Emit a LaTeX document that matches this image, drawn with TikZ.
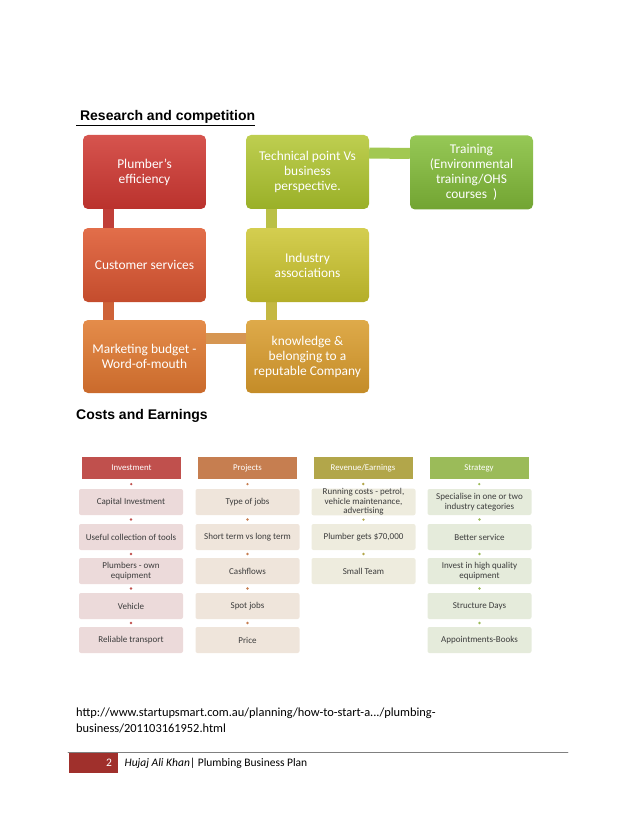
\documentclass[tikz,border=0pt]{standalone}
\usepackage{fontspec}
\setmainfont{Carlito}
\newfontfamily\headfont{Liberation Sans}
\usetikzlibrary{calc,backgrounds}

\definecolor{invred}{RGB}{192,80,77}
\definecolor{projbrown}{RGB}{198,126,80}
\definecolor{revolive}{RGB}{178,166,74}
\definecolor{stratgreen}{RGB}{155,187,89}
\definecolor{invitem}{RGB}{236,218,218}
\definecolor{projitem}{RGB}{239,229,219}
\definecolor{revitem}{RGB}{238,236,222}
\definecolor{stratitem}{RGB}{229,235,219}
\definecolor{itemtext}{RGB}{60,60,60}
\definecolor{footred}{RGB}{160,48,44}

\begin{document}
\begin{tikzpicture}[x=1pt, y=-1pt, line join=round, line cap=round,
    bigbox/.style={rounded corners=5pt, minimum width=123pt, minimum height=74pt, inner sep=0pt,
      align=center, text=white, font=\fontsize{13.4}{15}\selectfont},
    bar/.style={line width=11pt, line cap=butt},
    colhead/.style={minimum width=99pt, minimum height=22.6pt, inner sep=0pt, text=white,
      font=\fontsize{8.8}{10}\selectfont},
    item/.style={rounded corners=2pt, minimum width=104pt, minimum height=26pt, inner sep=0pt,
      align=center, text=itemtext, font=\fontsize{9}{9.4}\selectfont}]
  \useasboundingbox (0,0) rectangle (638,826);

  % research and competition
  \node[anchor=base west, inner sep=0pt, font=\headfont\bfseries\fontsize{14}{16}\selectfont] (rchead) at (76,121) {\underline{\ Research and competition}};

  \node[bigbox, top color={rgb,255:red,214;green,84;blue,78}, bottom color={rgb,255:red,186;green,50;blue,45}] (pe) at (144.5,172) {Plumber’s\\efficiency};
  \node[bigbox, top color={rgb,255:red,226;green,110;blue,74}, bottom color={rgb,255:red,196;green,76;blue,45}] (cs) at (144.5,265) {Customer services};
  \node[bigbox, minimum height=73pt, top color={rgb,255:red,228;green,140;blue,74}, bottom color={rgb,255:red,202;green,106;blue,44}] (mb) at (144.5,356.5) {Marketing budget -\\Word-of-mouth};
  \node[bigbox, top color={rgb,255:red,190;green,206;blue,80}, bottom color={rgb,255:red,154;green,176;blue,40}] (tp) at (307.5,172) {Technical point Vs\\business\\perspective.};
  \node[bigbox, top color={rgb,255:red,212;green,206;blue,80}, bottom color={rgb,255:red,180;green,174;blue,40}] (ia) at (307.5,265) {Industry\\associations};
  \node[bigbox, minimum height=73pt, top color={rgb,255:red,222;green,170;blue,74}, bottom color={rgb,255:red,196;green,140;blue,40}] (kb) at (307.5,356.5) {knowledge \&\\belonging to a\\reputable Company};
  \node[bigbox, top color={rgb,255:red,150;green,200;blue,86}, bottom color={rgb,255:red,114;green,164;blue,50}] (tr) at (471.5,172.5) {Training\\(Environmental\\training/OHS\\courses~~)};

  \begin{scope}[on background layer]
    \draw[bar, color={rgb,255:red,192;green,62;blue,56}] ([xshift=-36.5pt]pe.south) -- ([xshift=-36.5pt]cs.north);
    \draw[bar, color={rgb,255:red,206;green,98;blue,56}] ([xshift=-36.5pt]cs.south) -- ([xshift=-36.5pt]mb.north);
    \draw[bar, color={rgb,255:red,214;green,150;blue,82}] ([yshift=18.5pt]mb.east) -- ([yshift=18.5pt]kb.west);
    \draw[bar, color={rgb,255:red,186;green,192;blue,70}] ([xshift=-36.5pt]tp.south) -- ([xshift=-36.5pt]ia.north);
    \draw[bar, color={rgb,255:red,196;green,184;blue,66}] ([xshift=-36.5pt]ia.south) -- ([xshift=-36.5pt]kb.north);
    \draw[bar, color={rgb,255:red,162;green,200;blue,82}] ([yshift=19pt]tp.east) -- ([yshift=19pt]tr.west);
  \end{scope}

  % costs and earnings
  \node[anchor=base west, inner sep=0pt, font=\headfont\bfseries\fontsize{14}{16}\selectfont] (cehead) at (76,419) {Costs and Earnings};

  \node[colhead, fill=invred] (inv) at (131.5,468) {Investment};
  \node[item, fill=invitem] (inv1) at (131,502) {Capital Investment};
  \node[item, fill=invitem] (inv2) at (131,537) {Useful collection of tools};
  \node[item, fill=invitem] (inv3) at (131,571) {Plumbers - own\\equipment};
  \node[item, fill=invitem] (inv4) at (131,606) {Vehicle};
  \node[item, fill=invitem] (inv5) at (131,640) {Reliable transport};

  \node[colhead, fill=projbrown] (proj) at (247.5,468) {Projects};
  \node[item, fill=projitem] (proj1) at (247.5,502) {Type of jobs};
  \node[item, fill=projitem] (proj2) at (247.5,537) {Short term vs long term};
  \node[item, fill=projitem] (proj3) at (247.5,571) {Cashflows};
  \node[item, fill=projitem] (proj4) at (247.5,606) {Spot jobs};
  \node[item, fill=projitem] (proj5) at (247.5,640) {Price};

  \node[colhead, fill=revolive] (rev) at (363,468) {Revenue/Earnings};
  \node[item, fill=revitem] (rev1) at (363.5,502) {Running costs - petrol,\\vehicle maintenance,\\advertising};
  \node[item, fill=revitem] (rev2) at (363.5,537) {Plumber gets \$70,000};
  \node[item, fill=revitem] (rev3) at (363.5,571) {Small Team};

  \node[colhead, fill=stratgreen] (strat) at (479,468) {Strategy};
  \node[item, fill=stratitem] (strat1) at (479.5,502) {Specialise in one or two\\industry categories};
  \node[item, fill=stratitem] (strat2) at (479.5,537) {Better service};
  \node[item, fill=stratitem] (strat3) at (479.5,571) {Invest in high quality\\equipment};
  \node[item, fill=stratitem] (strat4) at (479.5,606) {Structure Days};
  \node[item, fill=stratitem] (strat5) at (479.5,640) {Appointments-Books};

  % little dots between the boxes
  \foreach \a/\b/\c in {inv/inv1/invred, inv1/inv2/invred, inv2/inv3/invred, inv3/inv4/invred, inv4/inv5/invred,
      proj/proj1/projbrown, proj1/proj2/projbrown, proj2/proj3/projbrown, proj3/proj4/projbrown, proj4/proj5/projbrown,
      rev/rev1/revolive, rev1/rev2/revolive, rev2/rev3/revolive,
      strat/strat1/stratgreen, strat1/strat2/stratgreen, strat2/strat3/stratgreen, strat3/strat4/stratgreen, strat4/strat5/stratgreen}
    \fill[\c] ($(\a.south)!0.5!(\b.north)$) circle (1.3pt);

  % source and footer
  \node[anchor=north west, align=left, inner sep=0pt, font=\fontsize{12.4}{15.5}\selectfont] (src) at (76,708)
    {http://www.startupsmart.com.au/planning/how-to-start-a.../plumbing-\\business/201103161952.html};
  \coordinate (rulel) at (68,752);
  \coordinate (ruler) at (568,752);
  \draw[gray, line width=0.8pt] (rulel) -- (ruler);
  \node[anchor=north west, fill=footred, minimum width=49pt, minimum height=20pt, inner sep=0pt] (pgbox) at (69,753) {};
  \node[anchor=east, text=white, font=\fontsize{11.5}{13}\selectfont] at ([xshift=-3pt]pgbox.east) {2};
  \node[anchor=west, inner sep=0pt, font=\fontsize{11.5}{13}\selectfont] (foot) at ([xshift=6pt]pgbox.east) {\textit{Hujaj Ali Khan}| Plumbing Business Plan};
\end{tikzpicture}
\end{document}
